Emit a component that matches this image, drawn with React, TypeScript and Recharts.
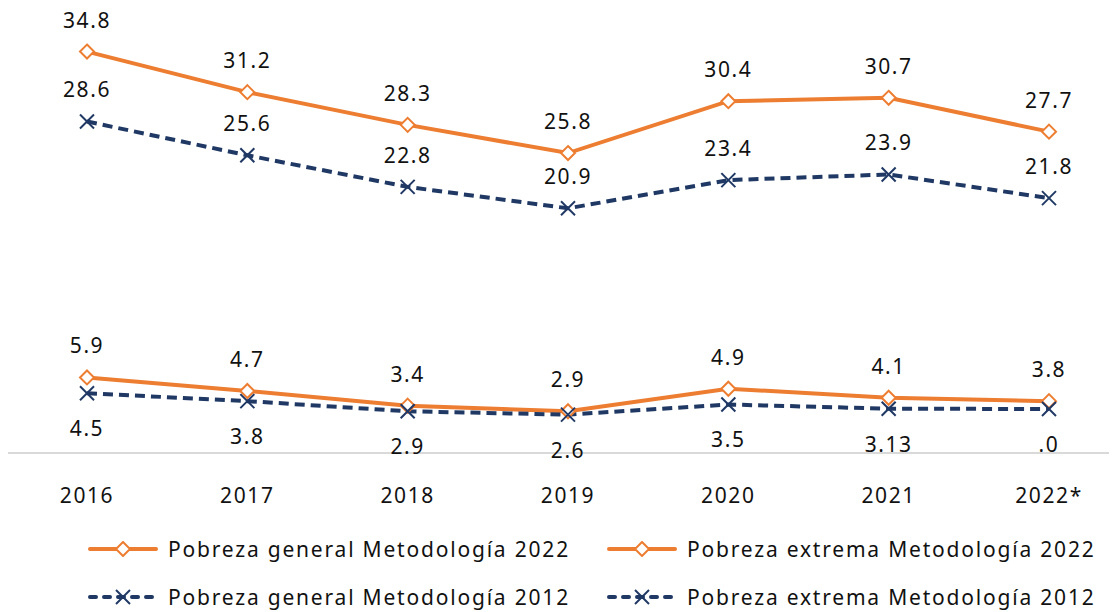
import { LineChart, Line, XAxis, YAxis, LabelList } from 'recharts';

const years = ['2016', '2017', '2018', '2019', '2020', '2021', '2022*'];

const generalM2022 = [34.8, 31.2, 28.3, 25.8, 30.4, 30.7, 27.7];
const generalM2012 = [28.6, 25.6, 22.8, 20.9, 23.4, 23.9, 21.8];
const extremaM2022 = [5.9, 4.7, 3.4, 2.9, 4.9, 4.1, 3.8];
const extremaM2012 = [4.5, 3.8, 2.9, 2.6, 3.5, 3.13, 3.1];
// etiquetas tal cual aparecen en el gráfico original
const extremaM2012Labels = ['4.5', '3.8', '2.9', '2.6', '3.5', '3.13', '.0'];

const ORANGE = '#ED7D31';
const NAVY = '#1F3864';
const FONT = '"Noto Sans", sans-serif';
const SPACING = 1.6;

const data = years.map((year, i) => ({
  year,
  g22: generalM2022[i],
  g12: generalM2012[i],
  e22: extremaM2022[i],
  e12: extremaM2012[i],
  e12Label: extremaM2012Labels[i],
}));

const Diamond = ({ cx, cy }: any) => (
  <polygon
    points={`${cx},${cy - 7} ${cx + 7},${cy} ${cx},${cy + 7} ${cx - 7},${cy}`}
    fill="#fff"
    stroke={ORANGE}
    strokeWidth={2}
  />
);

const Cross = ({ cx, cy }: any) => (
  <g stroke={NAVY} strokeWidth={2}>
    <line x1={cx - 7} y1={cy - 7} x2={cx + 7} y2={cy + 7} />
    <line x1={cx - 7} y1={cy + 7} x2={cx + 7} y2={cy - 7} />
  </g>
);

const legendItems = [
  { name: 'Pobreza general Metodología 2022', kind: 'o' },
  { name: 'Pobreza extrema Metodología 2022', kind: 'o' },
  { name: 'Pobreza general Metodología 2012', kind: 'x' },
  { name: 'Pobreza extrema Metodología 2012', kind: 'x' },
];

const LegendIcon = ({ kind }: { kind: string }) => (
  <svg width={70} height={16} style={{ marginRight: 10, flexShrink: 0 }}>
    {kind === 'o' ? (
      <>
        <line x1={2} y1={8} x2={68} y2={8} stroke={ORANGE} strokeWidth={4} strokeLinecap="round" />
        <Diamond cx={35} cy={8} />
      </>
    ) : (
      <>
        <line x1={2} y1={8} x2={68} y2={8} stroke={NAVY} strokeWidth={4} strokeLinecap="round" strokeDasharray="6 8" />
        <Cross cx={35} cy={8} />
      </>
    )}
  </svg>
);

const labelStyle = { fontSize: 21, fill: '#111', fontFamily: FONT, letterSpacing: SPACING };

export default function App() {
  return (
    <div style={{ position: 'relative', width: 1109, height: 604 }}>
      <style>{'.recharts-surface { overflow: visible; }'}</style>
      <LineChart
        width={1109}
        height={520}
        data={data}
        margin={{ top: 12, right: 0, bottom: 15, left: 0 }}
      >
        <XAxis
          dataKey="year"
          height={60}
          padding={{ left: 79, right: 68 }}
          axisLine={{ stroke: '#d9d9d9', strokeWidth: 2 }}
          tickLine={false}
          tickSize={0}
          tickMargin={35}
          tick={{ fontSize: 21, fill: '#111', fontFamily: FONT, letterSpacing: SPACING }}
          interval={0}
        />
        <YAxis hide domain={[-0.8, 37.6]} />
        <Line
          dataKey="g22"
          stroke={ORANGE}
          strokeWidth={4}
          dot={(p: any) => <Diamond key={`g22-${p.index}`} {...p} />}
          isAnimationActive={false}
        >
          <LabelList dataKey="g22" position="top" offset={24} style={labelStyle} />
        </Line>
        <Line
          dataKey="g12"
          stroke={NAVY}
          strokeWidth={4}
          strokeDasharray="10 6"
          dot={(p: any) => <Cross key={`g12-${p.index}`} {...p} />}
          isAnimationActive={false}
        >
          <LabelList dataKey="g12" position="top" offset={24} style={labelStyle} />
        </Line>
        <Line
          dataKey="e22"
          stroke={ORANGE}
          strokeWidth={4}
          dot={(p: any) => <Diamond key={`e22-${p.index}`} {...p} />}
          isAnimationActive={false}
        >
          <LabelList dataKey="e22" position="top" offset={24} style={labelStyle} />
        </Line>
        <Line
          dataKey="e12"
          stroke={NAVY}
          strokeWidth={4}
          strokeDasharray="10 6"
          dot={(p: any) => <Cross key={`e12-${p.index}`} {...p} />}
          isAnimationActive={false}
        >
          <LabelList dataKey="e12Label" position="bottom" offset={28} style={labelStyle} />
        </Line>
      </LineChart>
      <div
        style={{
          position: 'absolute',
          top: 527,
          left: 80,
          display: 'grid',
          gridTemplateColumns: '519px 510px',
          rowGap: 20,
        }}
      >
        {legendItems.map((item) => (
          <div
            key={item.name}
            style={{
              display: 'flex',
              alignItems: 'center',
              height: 28,
              fontSize: 21,
              letterSpacing: 1.8,
              color: '#111',
              fontFamily: FONT,
              whiteSpace: 'nowrap',
            }}
          >
            <LegendIcon kind={item.kind} />
            {item.name}
          </div>
        ))}
      </div>
    </div>
  );
}
